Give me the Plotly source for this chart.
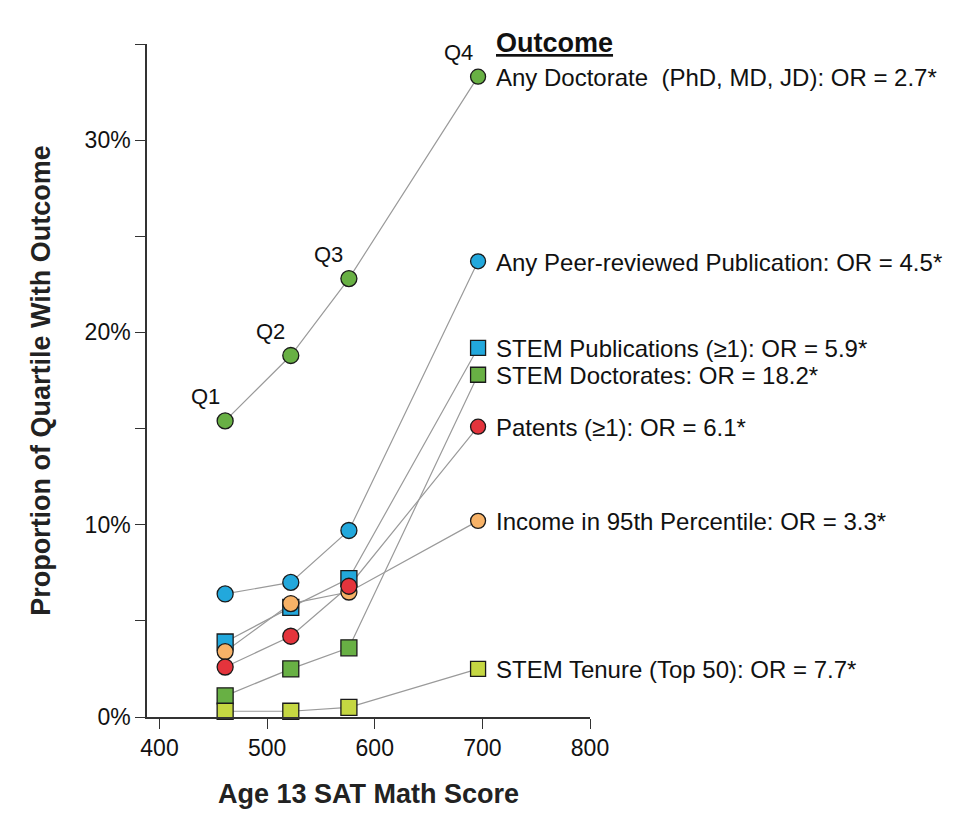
import plotly.graph_objects as go

# ---- data ----
quartiles = ["Q1", "Q2", "Q3", "Q4"]
sat_score = [461, 522, 576, 696]

any_doctorate = [15.4, 18.8, 22.8, 33.3]
peer_reviewed = [6.4, 7.0, 9.7, 23.7]
stem_publications = [3.9, 5.7, 7.2, 19.2]
stem_doctorates = [1.1, 2.5, 3.6, 17.8]
patents = [2.6, 4.2, 6.8, 15.1]
income_95 = [3.4, 5.9, 6.5, 10.2]
stem_tenure = [0.3, 0.3, 0.5, 2.5]

outcome_labels = [
    "Any Doctorate  (PhD, MD, JD): OR = 2.7*",
    "Any Peer-reviewed Publication: OR = 4.5*",
    "STEM Publications (\u22651): OR = 5.9*",
    "STEM Doctorates: OR = 18.2*",
    "Patents (\u22651): OR = 6.1*",
    "Income in 95th Percentile: OR = 3.3*",
    "STEM Tenure (Top 50): OR = 7.7*",
]

x_ticks = [400, 500, 600, 700, 800]
y_ticks = [0, 5, 10, 15, 20, 25, 30, 35]
y_ticktext = ["0%", "", "10%", "", "20%", "", "30%", ""]

# ---- styles ----
GREEN = "#68b044"
CYAN = "#22a8dc"
RED = "#e4343c"
ORANGE = "#f7b267"
LIME = "#c5d742"
FONT = "Liberation Sans, Arial, sans-serif"

series = [
    # (values, label, color, symbol) -- drawing order bottom -> top
    (stem_doctorates, outcome_labels[3], GREEN, "square"),
    (stem_tenure, outcome_labels[6], LIME, "square"),
    (stem_publications, outcome_labels[2], CYAN, "square"),
    (income_95, outcome_labels[5], ORANGE, "circle"),
    (patents, outcome_labels[4], RED, "circle"),
    (peer_reviewed, outcome_labels[1], CYAN, "circle"),
    (any_doctorate, outcome_labels[0], GREEN, "circle"),
]

fig = go.Figure()

# connecting lines first (below all markers)
for vals, label, color, sym in series:
    fig.add_trace(go.Scatter(
        x=sat_score, y=vals, mode="lines",
        line=dict(color="#9a9a9a", width=1.2),
        hoverinfo="skip", showlegend=False, cliponaxis=False,
    ))

# markers
for vals, label, color, sym in series:
    fig.add_trace(go.Scatter(
        x=sat_score, y=vals, mode="markers", name=label,
        marker=dict(color=color, symbol=sym, size=[16, 16, 16, 15],
                    opacity=1, line=dict(color="#1a1a1a", width=1.3)),
        showlegend=False, cliponaxis=False,
    ))

annotations = []
# outcome labels next to Q4 markers
for vals, label, color, sym in series:
    annotations.append(dict(
        x=sat_score[-1], y=vals[-1], xref="x", yref="y",
        text=label, showarrow=False, xanchor="left", yanchor="middle",
        xshift=16, yshift=-1,
        font=dict(family=FONT, size=24, color="#111111"),
    ))

# quartile labels above the Any Doctorate markers
for q, xv, yv in zip(quartiles, sat_score, any_doctorate):
    annotations.append(dict(
        x=xv, y=yv, xref="x", yref="y", text=q, showarrow=False,
        xanchor="center", yanchor="middle", xshift=-20, yshift=24,
        font=dict(family=FONT, size=22, color="#111111"),
    ))

# "Outcome" header
annotations.append(dict(
    x=sat_score[-1], y=y_ticks[-1], xref="x", yref="y",
    text="<b>Outcome</b>", showarrow=False, xanchor="left", yanchor="middle",
    xshift=16, yshift=1,
    font=dict(family=FONT, size=27, color="#111111", lineposition="under"),
))

fig.update_layout(
    width=975, height=836,
    margin=dict(l=139, r=393, t=36, b=127),
    paper_bgcolor="white", plot_bgcolor="white",
    font=dict(family=FONT, size=22, color="#111111"),
    annotations=annotations,
    showlegend=False,
)

fig.update_xaxes(
    range=[388.4, 800], tickvals=x_ticks, ticks="outside", ticklen=10,
    tickwidth=1.2, tickcolor="#333333", showline=True, linecolor="#333333",
    linewidth=1.5, showgrid=False, zeroline=False, automargin=False,
    tickfont=dict(family=FONT, size=23, color="#111111"),
    title=dict(text="<b>Age 13 SAT Math Score</b>", standoff=24,
               font=dict(family=FONT, size=27, color="#222222")),
)
fig.update_yaxes(
    range=[0, 35], tickvals=y_ticks, ticktext=y_ticktext, ticks="outside",
    ticklen=10, tickwidth=1.2, tickcolor="#333333", showline=True,
    linecolor="#333333", linewidth=1.5, showgrid=False, zeroline=False,
    automargin=False,
    tickfont=dict(family=FONT, size=23, color="#111111"),
    title=dict(text="<b>Proportion of Quartile With Outcome</b>", standoff=26,
               font=dict(family=FONT, size=27, color="#222222")),
)

fig.write_html("out.html")
